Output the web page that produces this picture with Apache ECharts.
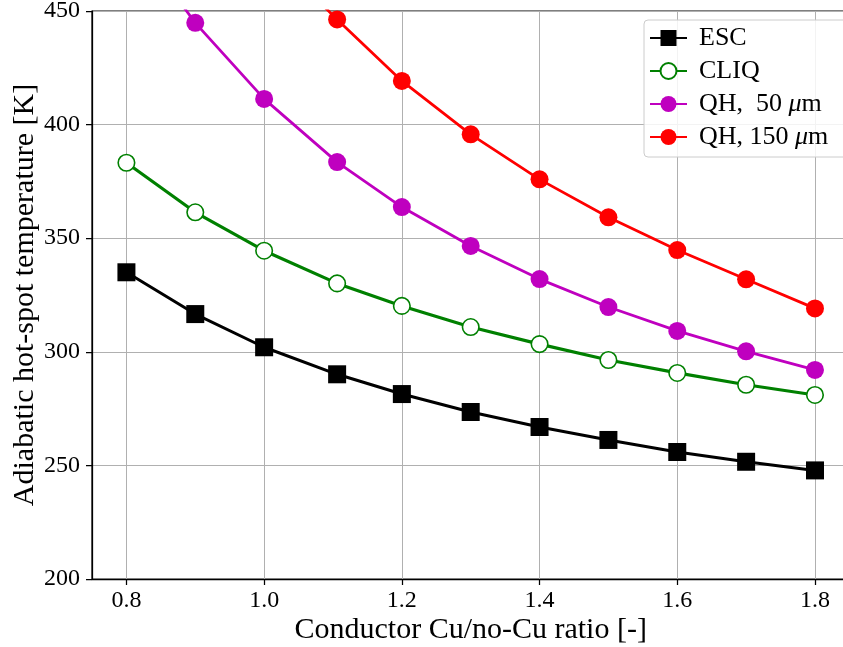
<!DOCTYPE html>
<html>
<head>
<meta charset="utf-8">
<script src="https://cdn.jsdelivr.net/npm/echarts@6/dist/echarts.min.js"></script>
<style>html,body{margin:0;padding:0;background:#fff;}#chart{width:843px;height:647px;}</style>
</head>
<body>
<div id="chart"></div>
<script>
// Data
const ratios = [0.8, 0.9, 1.0, 1.106, 1.2, 1.3, 1.4, 1.5, 1.6, 1.7, 1.8];
const escTemp = [335.0, 316.6, 302.0, 290.1, 281.4, 273.5, 266.9, 261.2, 255.9, 251.6, 247.8];
const cliqTemp = [383.2, 361.4, 344.5, 330.1, 320.2, 310.9, 303.4, 296.4, 290.7, 285.5, 281.0];
const qh50Temp = [486.0, 444.8, 411.3, 383.5, 363.7, 346.6, 332.0, 319.7, 309.2, 300.2, 292.0];
const qh150Temp = [562.0, 516.0, 478.0, 446.3, 419.2, 395.7, 375.9, 359.2, 344.8, 331.9, 319.1];
const xTicks = [0.8, 1.0, 1.2, 1.4, 1.6, 1.8];
const seriesNames = ['ESC', 'CLIQ', 'QH,  50 μm', 'QH, 150 μm'];
const xTitle = 'Conductor Cu/no-Cu ratio [-]';
const yTitle = 'Adiabatic hot-spot temperature [K]';

const pair = (ys) => ratios.map((x, i) => [x, ys[i]]);
const FONT = 'Liberation Serif';

const chart = echarts.init(document.getElementById('chart'), null, {renderer: 'canvas'});
chart.setOption({
  animation: false,
  backgroundColor: '#fff',
  textStyle: {fontFamily: FONT},
  grid: {left: 92, top: 11, width: 757.4, height: 568, show: true, borderColor: '#000', borderWidth: 1.25,
         backgroundColor: 'transparent', containLabel: false, outerBoundsMode: 'none'},
  xAxis: {
    type: 'value', min: 0.75, max: 1.85,
    name: xTitle, nameLocation: 'middle', nameGap: 36, nameMoveOverlap: false,
    nameTextStyle: {fontFamily: FONT, fontSize: 30, color: '#000'},
    axisLine: {show: true, lineStyle: {color: '#000', width: 1.25}},
    axisTick: {show: true, inside: false, length: 6, lineStyle: {color: '#000', width: 1.25}, customValues: xTicks},
    axisLabel: {show: true, customValues: xTicks, margin: 10, fontFamily: FONT, fontSize: 24, color: '#000', formatter: v => Number(v).toFixed(1)},
    splitLine: {show: true, lineStyle: {color: '#b0b0b0', width: 1}}
  },
  yAxis: {
    type: 'value', min: 200, max: 450, interval: 50,
    name: yTitle, nameLocation: 'middle', nameGap: 52, nameMoveOverlap: false,
    nameTextStyle: {fontFamily: FONT, fontSize: 30, color: '#000'},
    axisLine: {show: true, lineStyle: {color: '#000', width: 1.25}},
    axisTick: {show: true, inside: false, length: 6, lineStyle: {color: '#000', width: 1.25}},
    axisLabel: {margin: 12, fontFamily: FONT, fontSize: 24, color: '#000'},
    splitLine: {show: true, lineStyle: {color: '#b0b0b0', width: 1}}
  },
  legend: {
    orient: 'vertical', left: 644, top: 20,
    padding: [5, 24, 7, 5],
    itemWidth: 37, itemHeight: 20, itemGap: 7,
    backgroundColor: 'rgba(255,255,255,0.85)', borderColor: '#cccccc', borderWidth: 1, borderRadius: 4,
    data: seriesNames,
    formatter: name => name.replace('μ', '{i|μ}'),
    textStyle: {fontFamily: FONT, fontSize: 26, color: '#000', padding: [0, 0, 0, 7],
      rich: {i: {fontFamily: FONT, fontSize: 26, fontStyle: 'italic', color: '#000'}}}
  },
  series: [
    {name: seriesNames[0], type: 'line', data: pair(escTemp), symbol: 'rect', symbolSize: 18,
     lineStyle: {color: '#000', width: 3}, itemStyle: {color: '#000'}, clip: true},
    {name: seriesNames[1], type: 'line', data: pair(cliqTemp), symbol: 'circle', symbolSize: 16.5,
     lineStyle: {color: '#008000', width: 3.2}, itemStyle: {color: '#fff', borderColor: '#008000', borderWidth: 1.6}, clip: true},
    {name: seriesNames[2], type: 'line', data: pair(qh50Temp), symbol: 'circle', symbolSize: 18,
     lineStyle: {color: '#bf00bf', width: 2.8}, itemStyle: {color: '#bf00bf'}, clip: true},
    {name: seriesNames[3], type: 'line', data: pair(qh150Temp), symbol: 'circle', symbolSize: 18,
     lineStyle: {color: '#ff0000', width: 2.8}, itemStyle: {color: '#ff0000'}, clip: true}
  ]
});
</script>
</body>
</html>
